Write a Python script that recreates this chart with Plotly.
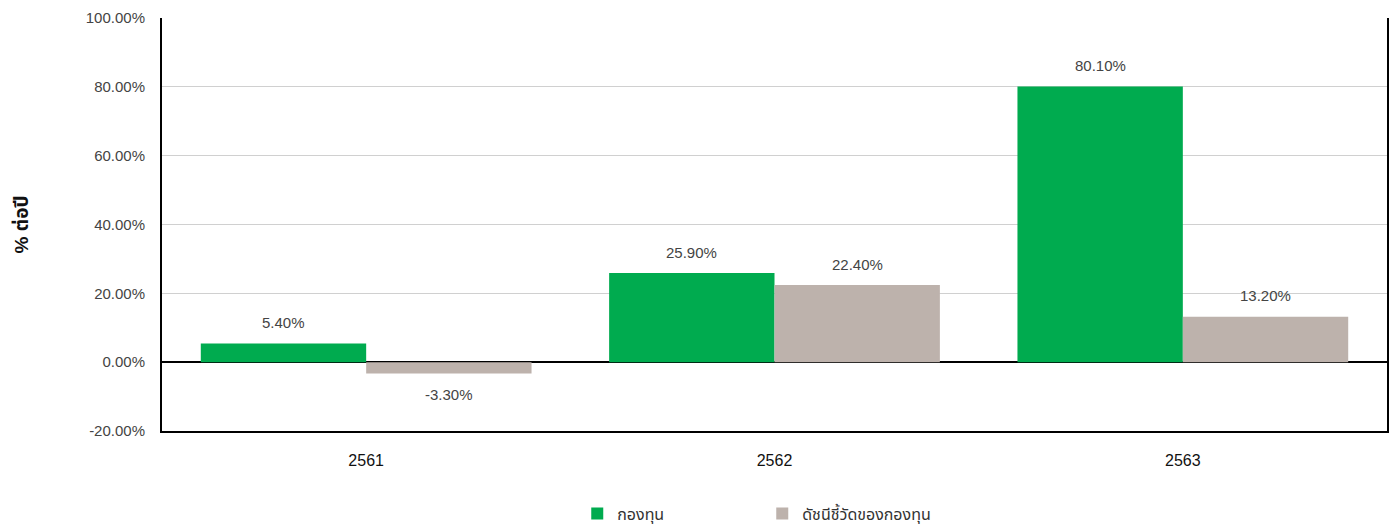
import plotly.graph_objects as go

years = ["2561", "2562", "2563"]
fund = [5.40, 25.90, 80.10]
benchmark = [-3.30, 22.40, 13.20]
series_names = ["กองทุน", "ดัชนีชี้วัดของกองทุน"]
y_ticks = [-20, 0, 20, 40, 60, 80, 100]
y_tick_labels = [f"{v:.2f}%" for v in y_ticks]

colors = ["#00AB4F", "#BDB2AC"]
FONT = "Liberation Sans, Arial, Noto Sans Thai, Noto Sans, sans-serif"

fig = go.Figure()
for name, vals, c, off in [(series_names[0], fund, colors[0], "a"), (series_names[1], benchmark, colors[1], "b")]:
    fig.add_trace(go.Bar(x=years, y=vals, name=name, marker_color=c, marker_line_width=0,
                         offsetgroup=off, hoverinfo="skip"))

# data labels
for i, y in enumerate(years):
    for vals, xs in [(fund, -0.2025), (benchmark, 0.2025)]:
        v = vals[i]
        fig.add_annotation(x=i + xs, y=v, xref="x", yref="y", text=f"{v:.2f}%",
                           showarrow=False, yanchor="middle", yshift=21 if v >= 0 else -21,
                           font=dict(family=FONT, size=15, color="#444444"))

fig.update_layout(
    width=1392, height=525,
    margin=dict(l=162, r=5, t=18, b=94, autoexpand=False),
    paper_bgcolor="white", plot_bgcolor="white",
    barmode="group", bargap=0.19, bargroupgap=0,
    font=dict(family=FONT, size=15, color="#444444"),
    showlegend=True,
    legend=dict(orientation="h", x=0.49, xanchor="center", y=-0.2, yanchor="middle",
                font=dict(family=FONT, size=16, color="#333333"),
                entrywidth=140, entrywidthmode="pixels", itemsizing="constant",
                traceorder="normal"),
    xaxis=dict(type="category", showline=True, linecolor="black", linewidth=2,
               automargin=False,
               ticks="outside", ticklen=14, tickcolor="rgba(0,0,0,0)",
               tickfont=dict(family=FONT, size=16, color="#111111"), showgrid=False),
    yaxis=dict(range=[-20, 100], tickvals=y_ticks, ticktext=y_tick_labels,
               automargin=False,
               showline=True, linecolor="black", linewidth=2, mirror=True,
               showgrid=True, gridcolor="#d0d0d0", gridwidth=1,
               zeroline=True, zerolinecolor="black", zerolinewidth=1.5,
               ticks="outside", ticklen=12, tickcolor="rgba(0,0,0,0)",
               tickfont=dict(family=FONT, size=15, color="#444444"),
               title=dict(text="<b>% ต่อปี</b>", standoff=52,
                          font=dict(family=FONT, size=19, color="#111111"))),
)

# remove the default page margin so the figure fills the 1392x525 window exactly
fig.write_html("out.html", config={"displayModeBar": False},
               post_script="document.body.style.margin='0';document.body.style.overflow='hidden';")
